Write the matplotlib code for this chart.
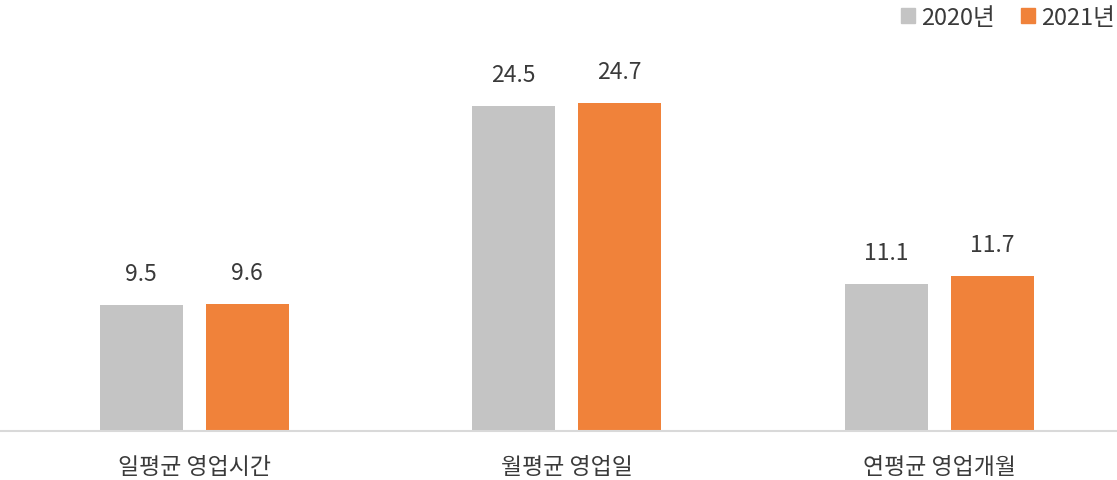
import numpy as np
import matplotlib.pyplot as plt
from matplotlib.patches import Patch

plt.rcParams['font.family'] = ['Noto Sans CJK KR', 'DejaVu Sans']

# data
categories = ['일평균 영업시간', '월평균 영업일', '연평균 영업개월']
series_names = ['2020년', '2021년']
values_2020 = [9.5, 24.5, 11.1]
values_2021 = [9.6, 24.7, 11.7]

gray = '#C4C4C4'
orange = '#F0823A'
text_color = '#3A3A3A'

W, H = 1117, 481
fig = plt.figure(figsize=(W / 100, H / 100), dpi=100)
ax = fig.add_axes([0, 49 / H, 1, 432 / H])

x = np.arange(len(categories))
width = 83 / 372.5
offset = 53 / 372.5

bars1 = ax.bar(x - offset, values_2020, width, color=gray)
bars2 = ax.bar(x + offset, values_2021, width, color=orange)

for bars, vals in ((bars1, values_2020), (bars2, values_2021)):
    for b, v in zip(bars, vals):
        ax.annotate(f'{v:.1f}', (b.get_x() + b.get_width() / 2, v),
                    xytext=(0, 20), textcoords='offset pixels',
                    ha='center', va='bottom', fontsize=16.5, color=text_color)

ax.set_xlim(-194 / 372.5, (W - 194) / 372.5)
ax.set_ylim(0, 432 / 13.27)
ax.axhline(0, color='#D9D9D9', lw=1.5, clip_on=False)

for s in ax.spines.values():
    s.set_visible(False)
ax.set_yticks([])
ax.set_xticks(x)
ax.set_xticklabels(categories, fontsize=16.5, color=text_color)
ax.tick_params(axis='x', length=0, pad=17)

handles = [Patch(color=gray), Patch(color=orange)]
leg = fig.legend(handles, series_names, loc='upper right',
                 bbox_to_anchor=(1115 / W, 1 - 7 / H), ncol=2, frameon=False,
                 fontsize=17, handlelength=0.6, handleheight=0.6,
                 handletextpad=0.25, columnspacing=1.1, borderaxespad=0,
                 borderpad=0)
for t in leg.get_texts():
    t.set_color(text_color)

fig.savefig('out.png', dpi=100)
